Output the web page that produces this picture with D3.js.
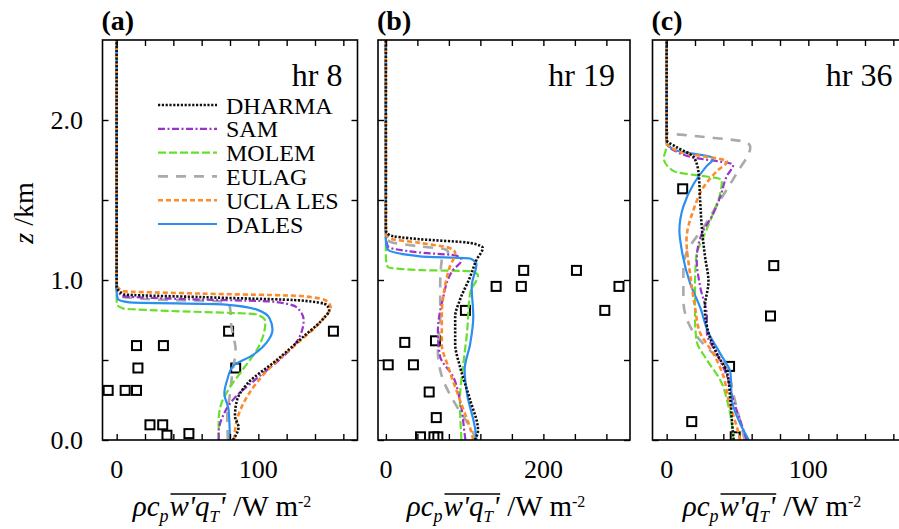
<!DOCTYPE html>
<html><head><meta charset="utf-8">
<script src="https://cdn.jsdelivr.net/npm/d3@7"></script>
<style>
html,body{margin:0;padding:0;background:#fff;}
svg{display:block;}
text{font-family:"Liberation Serif","Times New Roman",serif;fill:#000;}
</style></head>
<body>
<svg id="chart" width="899" height="529"></svg>
<script>
// ---------------- DATA ----------------
const models = ["DHARMA","SAM","MOLEM","EULAG","UCLA LES","DALES"];
const panelLetters = ["(a)","(b)","(c)"];
const panelHours = ["hr 8","hr 19","hr 36"];
const xDomains = [[-10,170],[-10,310],[-10,170]];
const xTickSteps = [20,40,20];
const xTickLabels = [[0,100],[0,200],[0,100]];
const zTickValues = [0,0.5,1,1.5,2];
const zTickLabels = [0,1,2];

// profiles: [flux W m-2, z km]
// panel (a) hr 8
const a_DHARMA = [[0,2.5],[0,0.96],[5,0.91],[60,0.893],[130,0.872],[148,0.845],[150,0.81],[146,0.76],[131,0.64],[113,0.5],[92,0.35],[85,0.25],[83.5,0.15],[86,0.08],[82,0]];
const a_SAM    = [[0,2.5],[0,0.95],[4,0.9],[50,0.88],[110,0.865],[127,0.83],[132,0.75],[131,0.69],[126,0.6],[116,0.51],[101,0.4],[82,0.25],[75,0.15],[72,0.05],[72,0]];
const a_MOLEM  = [[0,2.5],[0,0.9],[0,0.85],[4.5,0.822],[28,0.81],[99,0.785],[105,0.74],[104,0.67],[100,0.58],[89,0.44],[80,0.33],[74,0.23],[72,0.125],[72,0]];
const a_EULAG  = [[0,2.5],[0,0.93],[2,0.9],[28,0.878],[75,0.865],[80,0.83],[81,0.71],[84,0.56],[82,0.44],[80,0.29],[78,0.14],[78.5,0]];
const a_UCLA   = [[0,2.5],[0,0.97],[5,0.93],[60,0.915],[130,0.9],[148,0.87],[151,0.83],[145,0.75],[127,0.6],[108,0.45],[92,0.27],[85,0.13],[83,0]];
const a_DALES  = [[0,2.5],[0,0.92],[1,0.88],[9,0.86],[75,0.848],[99,0.815],[108,0.76],[110,0.69],[106,0.61],[96,0.53],[82,0.46],[78,0.375],[76,0.29],[79,0.19],[80,0]];
// panel (b) hr 19
const b_DHARMA = [[0,2.5],[0,1.31],[5,1.28],[43,1.255],[107,1.232],[123,1.2],[115,1.125],[107,1.02],[94,0.875],[88,0.77],[88,0.6],[94,0.46],[107,0.25],[117,0.06],[113,0]];
const b_SAM    = [[0,2.5],[0,1.27],[2.5,1.21],[43,1.172],[90,1.152],[96,1.125],[85,1.06],[72,0.875],[66,0.67],[69,0.52],[85,0.4],[94,0.25],[100,0.04],[101,0]];
const b_MOLEM  = [[0,2.5],[0,1.25],[0,1.145],[2.5,1.08],[43,1.062],[107,1.055],[117,1.03],[107,0.92],[103,0.67],[98,0.46],[94,0.25],[96,0]];
const b_EULAG  = [[0,2.5],[0,1.27],[5,1.24],[43,1.21],[75,1.192],[79,1.175],[71,1.125],[69,0.98],[69,0.77],[66,0.56],[71,0.4],[90,0.21],[107,0.08],[115,0]];
const b_UCLA   = [[0,2.5],[0,1.29],[5,1.26],[43,1.232],[81,1.2],[88,1.17],[81,1.08],[75,0.96],[71,0.77],[71,0.6],[79,0.46],[94,0.25],[109,0.04],[111,0]];
const b_DALES  = [[0,2.5],[0,1.24],[2.5,1.19],[43,1.148],[107,1.135],[115,1.1],[109,0.96],[111,0.77],[107,0.6],[100,0.44],[103,0.29],[113,0.08],[115,0]];
// panel (c) hr 36
const c_DHARMA = [[0,2.5],[0,1.875],[7,1.83],[19,1.77],[22.5,1.67],[23.6,1.5],[24.8,1.33],[27,1.15],[29.5,0.99],[27,0.83],[29.5,0.67],[35.4,0.54],[42.6,0.42],[45,0.25],[46,0.125],[47.3,0]];
const c_SAM    = [[0,2.5],[0,1.86],[16.5,1.77],[47,1.72],[42.5,1.65],[37.8,1.52],[32,1.4],[24.8,1.29],[21.2,1.125],[23.6,0.96],[28.4,0.77],[28.4,0.67],[35.4,0.54],[42.5,0.4],[47,0.25],[51.8,0.125],[56.5,0]];
const c_MOLEM  = [[0,2.5],[0,1.84],[-2,1.76],[5,1.68],[39,1.625],[37.8,1.54],[33,1.42],[27,1.29],[21,1.15],[20,0.96],[20,0.77],[21,0.625],[28.4,0.5],[37.8,0.375],[43.7,0.21],[47.3,0]];
const c_EULAG  = [[0,2.5],[0,1.92],[20,1.9],[56.7,1.86],[59,1.83],[49.6,1.67],[37.8,1.5],[26,1.33],[14,1.17],[11.8,1.08],[11.8,0.875],[16.5,0.71],[28,0.58],[42.4,0.46],[47,0.29],[54,0.04],[55,0]];
const c_UCLA   = [[0,2.5],[0,1.86],[9.5,1.8],[42.5,1.74],[35.4,1.68],[26,1.58],[19,1.44],[14,1.25],[16.5,1.04],[20,0.83],[23.6,0.67],[33,0.54],[40,0.4],[43.7,0.25],[49.6,0.08],[52,0]];
const c_DALES  = [[0,2.5],[0,1.86],[7,1.81],[33,1.76],[28,1.71],[19,1.6],[11.8,1.46],[9,1.31],[10.6,1.19],[16.5,0.98],[23.6,0.83],[29.5,0.67],[37.8,0.54],[45,0.42],[46,0.25],[52,0.1],[58,0]];

// observations (aircraft legs)
const obsA_flux = [79,153,14,33,15,84,-6,6,14,23.5,32.5,35.5,51];
const obsA_z    = [0.68,0.68,0.59,0.59,0.45,0.45,0.31,0.31,0.31,0.095,0.095,0.03,0.04];
const obsB_flux = [175,242,140,172,296,101,278,24,63,3,35,55,64,44,61,66];
const obsB_z    = [1.06,1.06,0.96,0.96,0.96,0.81,0.81,0.61,0.62,0.47,0.47,0.30,0.14,0.02,0.02,0.02];
const obsC_flux = [11.3,75.6,73.3,44.4,17.7,48.4];
const obsC_z    = [1.57,1.09,0.775,0.46,0.115,0.02];

const profiles = [
  [a_DHARMA,a_SAM,a_MOLEM,a_EULAG,a_UCLA,a_DALES],
  [b_DHARMA,b_SAM,b_MOLEM,b_EULAG,b_UCLA,b_DALES],
  [c_DHARMA,c_SAM,c_MOLEM,c_EULAG,c_UCLA,c_DALES]
];
const observations = [[obsA_flux,obsA_z],[obsB_flux,obsB_z],[obsC_flux,obsC_z]];

// ---------------- STYLE ----------------
const styles = {
  "DHARMA":  {color:"#111111", width:2.6, dash:"2.2,1.6"},
  "SAM":     {color:"#9933cc", width:2.2, dash:"7,2.5,2,2.5"},
  "MOLEM":   {color:"#66e02a", width:2.2, dash:"8,3"},
  "EULAG":   {color:"#aaaaaa", width:2.6, dash:"10,8"},
  "UCLA LES":{color:"#ff8a2a", width:2.6, dash:"5,3"},
  "DALES":   {color:"#2b8fef", width:2.2, dash:null}
};
const drawOrder = ["EULAG","MOLEM","SAM","DALES","UCLA LES","DHARMA"];

const panelBox = [{x0:102.5,x1:357.5},{x0:378,x1:630},{x0:652.5,x1:907.5}];
const plotTop = 40, plotBottom = 440;

const svg = d3.select("#chart");
const y = d3.scaleLinear().domain([0,2.5]).range([plotBottom, plotTop]);

function richText(g, cx, baseline, segs){
  const items = [];
  let xpos = 0;
  segs.forEach(s=>{
    const t = g.append("text")
      .attr("y", baseline + (s.dy||0))
      .style("font-size", s.size+"px")
      .style("font-style", s.italic?"italic":"normal")
      .text(s.t);
    const w = t.node().getComputedTextLength();
    items.push({t, x:xpos, w, s});
    xpos += w + (s.gap||0);
  });
  const start = cx - xpos/2;
  items.forEach(it=>it.t.attr("x", start + it.x));
  const ov = items.filter(it=>it.s.over);
  if (ov.length){
    const xa = start + ov[0].x + 1, xb = start + ov[ov.length-1].x + ov[ov.length-1].w + 1;
    g.append("line").attr("x1",xa).attr("x2",xb)
      .attr("y1",baseline-22).attr("y2",baseline-22)
      .attr("stroke","#000").attr("stroke-width",1.4);
  }
}

panelBox.forEach((pb, i) => {
  const x = d3.scaleLinear().domain(xDomains[i]).range([pb.x0, pb.x1]);
  const g = svg.append("g");
  const clipId = "clip"+i;
  svg.append("clipPath").attr("id",clipId).append("rect")
    .attr("x",pb.x0).attr("y",plotTop).attr("width",pb.x1-pb.x0).attr("height",plotBottom-plotTop);

  const plot = g.append("g").attr("clip-path",`url(#${clipId})`);

  // observations squares
  const [of, oz] = observations[i];
  plot.selectAll("rect.obs").data(of.map((v,k)=>[v,oz[k]])).join("rect")
    .attr("class","obs")
    .attr("x",d=>x(d[0])-4.5).attr("y",d=>y(d[1])-4.5)
    .attr("width",9).attr("height",9)
    .attr("fill","none").attr("stroke","#000").attr("stroke-width",2);

  // profiles
  const line = d3.line().x(d=>x(d[0])).y(d=>y(d[1])).curve(d3.curveMonotoneY);
  drawOrder.forEach(name=>{
    const idx = models.indexOf(name);
    const st = styles[name];
    const data = profiles[i][idx].slice().reverse();
    plot.append("path").datum(data)
      .attr("d", line)
      .attr("fill","none")
      .attr("stroke", st.color)
      .attr("stroke-width", st.width)
      .attr("stroke-dasharray", st.dash)
      .attr("stroke-linejoin","round");
  });

  // frame
  g.append("rect").attr("x",pb.x0).attr("y",plotTop).attr("width",pb.x1-pb.x0).attr("height",plotBottom-plotTop)
    .attr("fill","none").attr("stroke","#000").attr("stroke-width",1.6);

  // x ticks (bottom & top, inward)
  const xt = d3.range(0, xDomains[i][1], xTickSteps[i]).filter(v=>x(v) < pb.x1-2);
  const axB = d3.axisBottom(x).tickValues(xt).tickSizeInner(-6).tickSizeOuter(0).tickFormat("");
  const axT = d3.axisTop(x).tickValues(xt).tickSizeInner(-6).tickSizeOuter(0).tickFormat("");
  const gb = g.append("g").attr("transform",`translate(0,${plotBottom})`).call(axB);
  const gt = g.append("g").attr("transform",`translate(0,${plotTop})`).call(axT);
  [gb,gt].forEach(a=>{ a.select(".domain").remove(); a.selectAll("line").attr("stroke","#000").attr("stroke-width",1.4); });

  // x tick labels
  g.selectAll("text.xl").data(xTickLabels[i]).join("text")
    .attr("class","xl")
    .attr("x",d=>x(d)).attr("y",478)
    .attr("text-anchor","middle").style("font-size","26px")
    .text(d=>d);

  // y ticks (left & right, inward)
  const axL = d3.axisLeft(y).tickValues(zTickValues).tickSizeInner(-6).tickSizeOuter(0).tickFormat("");
  const axR = d3.axisRight(y).tickValues(zTickValues).tickSizeInner(-6).tickSizeOuter(0).tickFormat("");
  const gl = g.append("g").attr("transform",`translate(${pb.x0},0)`).call(axL);
  const gr = g.append("g").attr("transform",`translate(${pb.x1},0)`).call(axR);
  [gl,gr].forEach(a=>{ a.select(".domain").remove(); a.selectAll("line").attr("stroke","#000").attr("stroke-width",1.4); });

  // panel letter
  g.append("text").attr("x",pb.x0-1).attr("y",30)
    .style("font-size","28px").style("font-weight","bold").text(panelLetters[i]);
  // hour label
  g.append("text").attr("x",pb.x1-15).attr("y",86)
    .attr("text-anchor","end").style("font-size","32px").text(panelHours[i]);

  // x axis title
  richText(g, (pb.x0+pb.x1)/2 - 8, 516, [
    {t:"ρc", italic:true, size:29},
    {t:"p", italic:true, size:18, dy:6, gap:1},
    {t:"w'q", italic:true, size:29, over:true},
    {t:"T", italic:true, size:17, dy:6, over:true},
    {t:"'", italic:true, size:29, over:true, gap:8},
    {t:"/W m", italic:false, size:29},
    {t:"-2", italic:false, size:16, dy:-9}
  ]);
});

// y tick labels
svg.selectAll("text.yl").data(zTickLabels).join("text")
  .attr("class","yl")
  .attr("x",83).attr("y",d=>y(d)+9)
  .attr("text-anchor","end").style("font-size","26px")
  .text(d=>d3.format(".1f")(d));

// y axis title
const yt = svg.append("text").attr("transform","translate(33,213) rotate(-90)")
  .attr("text-anchor","middle").style("font-size","28px");
yt.append("tspan").style("font-style","italic").text("z");
yt.append("tspan").text(" /km");

// legend (in panel a)
const lg = svg.append("g");
models.forEach((name,k)=>{
  const st = styles[name];
  const cy = 105 + k*23.8;
  lg.append("line").attr("x1",158).attr("x2",217).attr("y1",cy).attr("y2",cy)
    .attr("stroke",st.color).attr("stroke-width",st.width).attr("stroke-dasharray",st.dash);
  lg.append("text").attr("x",226).attr("y",cy+8.5).style("font-size","24px").text(name);
});
</script>
</body></html>
